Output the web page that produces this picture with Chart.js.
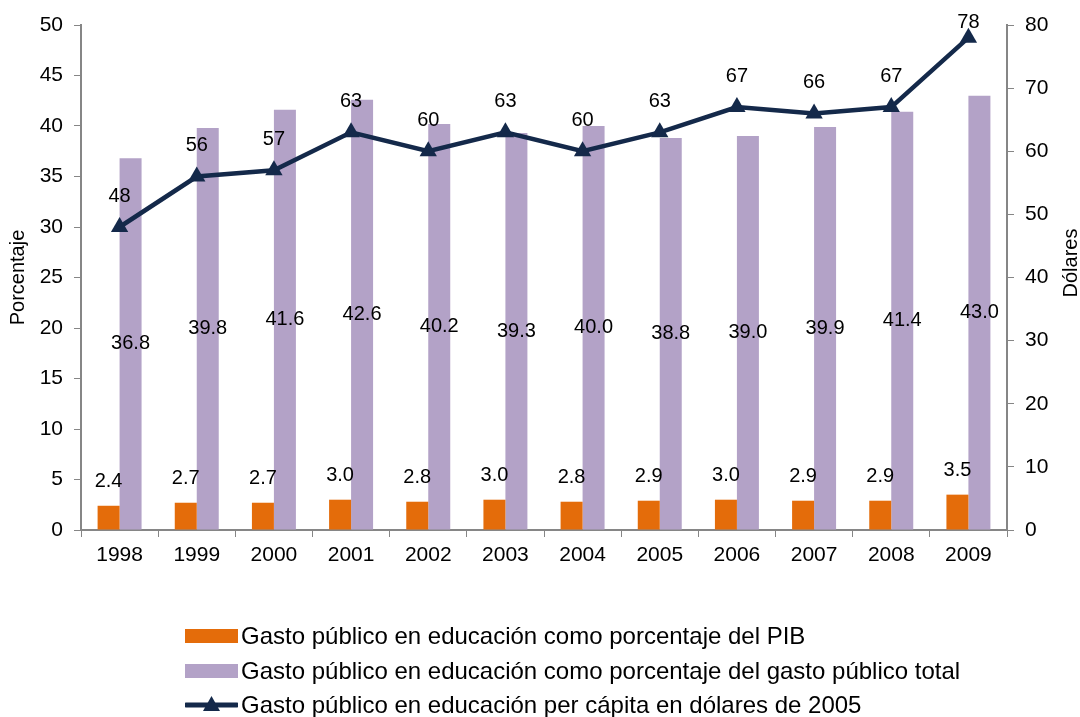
<!DOCTYPE html>
<html>
<head>
<meta charset="utf-8">
<script src="https://cdn.jsdelivr.net/npm/chart.js@4"></script>
<style>
  body { margin: 0; background: #fff; }
  #wrap { position: relative; width: 1080px; height: 717px; }
  #legend { position: absolute; left: 185px; top: 619px; font-family: "Liberation Sans", Arial, sans-serif; font-size: 24px; color: #000; }
  .row { height: 34.5px; display: flex; align-items: center; white-space: nowrap; }
  .sw { width: 53px; height: 14px; margin-right: 3px; }
  .ln { width: 53px; height: 20px; margin-right: 3px; }
</style>
</head>
<body>
<div id="wrap">
  <canvas id="myChart" width="1080" height="717"></canvas>
  <div id="legend"></div>
</div>
<script>
// data
const years = ['1998', '1999', '2000', '2001', '2002', '2003', '2004', '2005', '2006', '2007', '2008', '2009'];
const pctPIB = [2.4, 2.7, 2.7, 3.0, 2.8, 3.0, 2.8, 2.9, 3.0, 2.9, 2.9, 3.5];
const pctGasto = [36.8, 39.8, 41.6, 42.6, 40.2, 39.3, 40.0, 38.8, 39.0, 39.9, 41.4, 43.0];
const perCapita = [48, 56, 57, 63, 60, 63, 60, 63, 67, 66, 67, 78];

const seriesNames = [
  'Gasto público en educación como porcentaje del PIB',
  'Gasto público en educación como porcentaje del gasto público total',
  'Gasto público en educación per cápita en dólares de 2005'
];

const ORANGE = '#E46C0A';
const PURPLE = '#B3A2C7';
const NAVY = '#14294A';
const AXIS = '#868686';
const FONT = '"Liberation Sans", Arial, sans-serif';

// draws the numbers on the bars / points and the right axis title
const labelsPlugin = {
  id: 'labelsPlugin',
  afterDatasetsDraw(chart) {
    const ctx = chart.ctx;
    ctx.save();
    ctx.font = '20px ' + FONT;
    ctx.fillStyle = '#000';
    ctx.textAlign = 'center';
    ctx.textBaseline = 'middle';

    chart.getDatasetMeta(1).data.forEach((bar, i) => {
      const mid = (bar.y + bar.base) / 2;
      ctx.fillText(pctGasto[i].toFixed(1), bar.x, mid);
    });
    chart.getDatasetMeta(0).data.forEach((bar, i) => {
      ctx.fillText(pctPIB[i].toFixed(1), bar.x, bar.y - 24);
    });
    chart.getDatasetMeta(2).data.forEach((pt, i) => {
      ctx.fillText(String(perCapita[i]), pt.x, Math.max(pt.y - 31, 22));
    });

    // right title reads bottom to top like the left one
    ctx.translate(1071, 263);
    ctx.rotate(-Math.PI / 2);
    ctx.fillText('Dólares', 0, 0);
    ctx.restore();
  }
};

const data = {
  labels: years,
  datasets: [
    {
      type: 'bar',
      label: seriesNames[0],
      data: pctPIB,
      backgroundColor: ORANGE,
      yAxisID: 'y',
      barPercentage: 1,
      categoryPercentage: 0.57,
      order: 2
    },
    {
      type: 'bar',
      label: seriesNames[1],
      data: pctGasto,
      backgroundColor: PURPLE,
      yAxisID: 'y',
      barPercentage: 1,
      categoryPercentage: 0.57,
      order: 2
    },
    {
      type: 'line',
      label: seriesNames[2],
      data: perCapita,
      borderColor: NAVY,
      backgroundColor: NAVY,
      borderWidth: 4.5,
      pointStyle: 'triangle',
      pointRadius: 10,
      pointBorderWidth: 0,
      tension: 0,
      yAxisID: 'y1',
      order: 1
    }
  ]
};

const config = {
  type: 'bar',
  data: data,
  plugins: [labelsPlugin],
  options: {
    responsive: false,
    animation: false,
    layout: { padding: { top: 25, bottom: 137, left: 0, right: 0 } },
    plugins: {
      legend: { display: false },
      tooltip: { enabled: false }
    },
    scales: {
      x: {
        offset: true,
        grid: { display: true, drawOnChartArea: false, drawTicks: true, tickLength: 7, color: AXIS, offset: true },
        border: { color: AXIS, width: 2 },
        ticks: { color: '#000', font: { family: FONT, size: 21 }, padding: 6 },
        afterFit(scale) { scale.height = 50; }
      },
      y: {
        position: 'left',
        min: 0, max: 50,
        ticks: { stepSize: 5, color: '#000', font: { family: FONT, size: 21 }, padding: 11 },
        grid: { display: true, drawOnChartArea: false, drawTicks: true, tickLength: 7, color: AXIS },
        border: { color: AXIS, width: 2 },
        title: { display: true, text: 'Porcentaje', color: '#000', font: { family: FONT, size: 20 }, padding: { top: 6, bottom: 0 } },
        afterFit(scale) { scale.width = 81; }
      },
      y1: {
        position: 'right',
        min: 0, max: 80,
        ticks: { stepSize: 10, color: '#000', font: { family: FONT, size: 21 }, padding: 11 },
        grid: { display: true, drawOnChartArea: false, drawTicks: true, tickLength: 7, color: AXIS },
        border: { color: AXIS, width: 2 },
        afterFit(scale) { scale.width = 73; }
      }
    }
  }
};

var myChart = new Chart(document.getElementById('myChart'), config);

// legend, left aligned block like the original
const legend = document.getElementById('legend');
legend.innerHTML =
  '<div class="row"><div class="sw" style="background:' + ORANGE + '"></div>' + seriesNames[0] + '</div>' +
  '<div class="row"><div class="sw" style="background:' + PURPLE + '"></div>' + seriesNames[1] + '</div>' +
  '<div class="row"><svg class="ln" viewBox="0 0 53 20"><line x1="1" y1="10" x2="52" y2="10" stroke="' + NAVY + '" stroke-width="5" stroke-linecap="round"/>' +
  '<polygon points="26.5,1 35,16 18,16" fill="' + NAVY + '"/></svg>' + seriesNames[2] + '</div>';
</script>
</body>
</html>
